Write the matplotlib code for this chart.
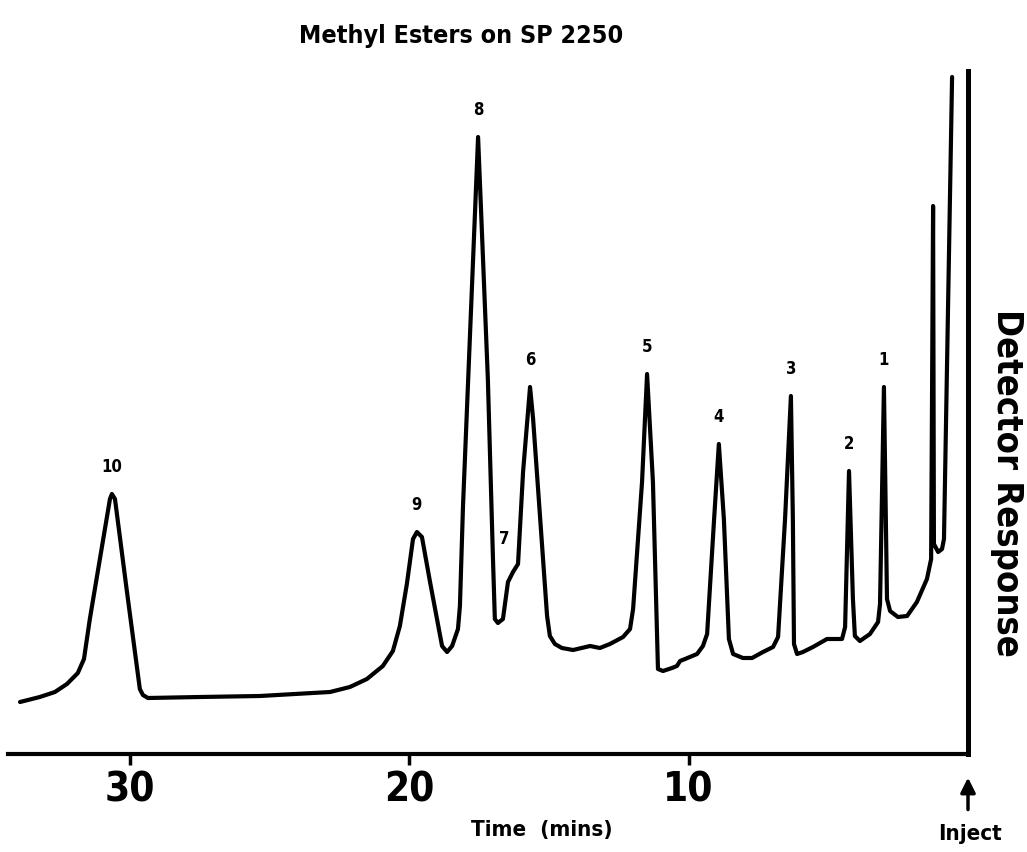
import matplotlib
matplotlib.use("Agg")
import matplotlib.pyplot as plt

plt.rcParams['font.family'] = ['DejaVu Sans']
plt.rcParams['font.stretch'] = 'condensed'

# chromatogram trace (time in mins, response in arbitrary units)
time_min = [33.94, 33.23, 32.69, 32.26, 31.87, 31.65, 31.44, 31.08, 30.72, 30.65,
            30.54, 30.11, 29.65, 29.54, 29.36, 27.50, 25.35, 22.84, 22.13, 21.52,
            20.95, 20.59, 20.34, 20.09, 19.87, 19.73, 19.55, 19.26, 18.83, 18.65,
            18.47, 18.26, 18.19, 18.08, 17.54, 17.19, 17.01, 16.94, 16.83, 16.65,
            16.47, 16.29, 16.11, 15.93, 15.68, 15.57, 15.07, 14.97, 14.79, 14.54,
            14.14, 13.53, 13.18, 12.82, 12.35, 12.10, 11.99, 11.67, 11.49, 11.28,
            11.10, 10.92, 10.60, 10.42, 10.31, 10.13, 9.70, 9.49, 9.34, 9.09,
            8.92, 8.74, 8.56, 8.41, 8.06, 7.73, 7.34, 6.98, 6.80, 6.55,
            6.34, 6.27, 6.23, 6.12, 5.91, 5.55, 5.05, 4.51, 4.40, 4.26,
            4.12, 4.05, 3.87, 3.51, 3.22, 3.15, 3.01, 2.90, 2.79, 2.51,
            2.18, 1.83, 1.47, 1.32, 1.25, 1.22, 1.07, 0.93, 0.86, 0.57]
response = [52, 57, 62, 70, 81, 95, 135, 195, 255, 260,
            255, 162, 65, 59, 56, 57, 58, 62, 67, 75,
            88, 103, 128, 170, 215, 222, 217, 172, 108, 102,
            108, 125, 148, 248, 617, 375, 198, 135, 131, 135,
            172, 182, 190, 282, 367, 335, 138, 118, 110, 106,
            104, 108, 106, 110, 117, 125, 145, 272, 380, 272,
            85, 83, 86, 88, 93, 95, 100, 108, 120, 235,
            310, 235, 115, 100, 96, 96, 102, 107, 117, 235,
            358, 235, 110, 100, 102, 107, 115, 115, 127, 283,
            155, 118, 113, 120, 132, 150, 367, 155, 143, 137,
            138, 152, 175, 195, 548, 210, 202, 205, 215, 677]

peak_names = ['10', '9', '8', '7', '6', '5', '4', '3', '2', '1']
peak_times = [30.65, 19.73, 17.54, 16.11, 15.68, 11.49, 8.92, 6.34, 4.26, 3.01]
peak_heights = [260, 222, 617, 190, 367, 380, 310, 358, 283, 367]

xticks = [30, 20, 10]

fig = plt.figure(figsize=(10.27, 8.53), dpi=100)
ax = fig.add_axes([8 / 1027, 1 - 755 / 853, 960 / 1027, 683 / 853])

ax.plot(time_min, response, color='black', lw=3.0, solid_joinstyle='round',
        solid_capstyle='round')

for name, t, h in zip(peak_names, peak_times, peak_heights):
    if name == '7':
        off = (-10, 12)
    else:
        off = (0, 14)
    ax.annotate(name, (t, h), xytext=off, textcoords='offset points',
                ha='center', va='bottom', fontsize=12, fontweight='bold')

ax.set_xlim(34.37, 0)
ax.set_ylim(0, 683)

for s in ['top', 'left']:
    ax.spines[s].set_visible(False)
ax.spines['bottom'].set_linewidth(3.0)
ax.spines['right'].set_linewidth(3.6)

ax.set_yticks([])
ax.set_xticks(xticks)
ax.set_xticklabels([str(v) for v in xticks], fontsize=29, fontweight='bold')
ax.tick_params(axis='x', direction='out', length=8, width=2.5, pad=3)

fig.text(542 / 1027, 1 - 830 / 853, 'Time  (mins)', ha='center', va='center',
         fontsize=16, fontweight='bold')
fig.text(461 / 1027, 1 - 36 / 853, 'Methyl Esters on SP 2250', ha='center',
         va='center', fontsize=18, fontweight='bold')
fig.text(1007 / 1027, 1 - 483 / 853, 'Detector Response', rotation=-90,
         ha='center', va='center', fontsize=26, fontweight='bold')

ax.annotate('', xy=(0, 0), xycoords='data', xytext=(0, -40),
            textcoords='offset points',
            arrowprops=dict(arrowstyle='-|>', color='black', lw=2.5,
                            mutation_scale=22, shrinkA=0, shrinkB=17))
fig.text(970 / 1027, 1 - 834 / 853, 'Inject', ha='center', va='center',
         fontsize=16, fontweight='bold')

fig.savefig('out.png', dpi=100)
